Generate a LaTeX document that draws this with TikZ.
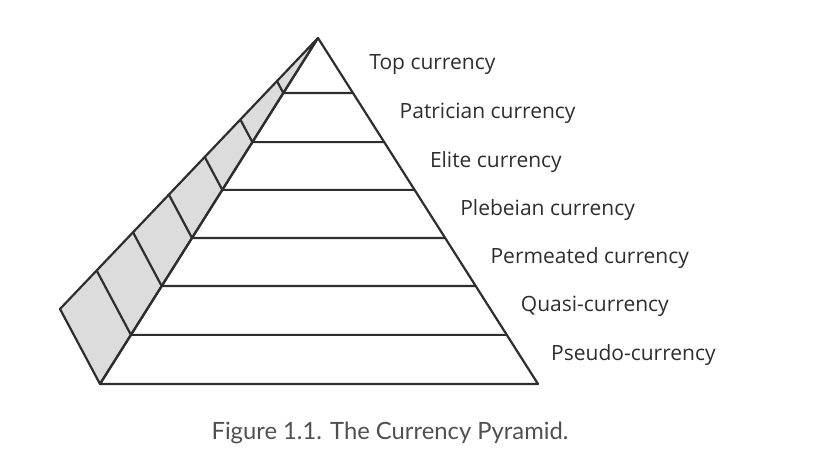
\documentclass[tikz,border=0pt]{standalone}
\usepackage{fontspec}
\setmainfont{Open Sans}
\newfontfamily\capfont{Lato}
\usetikzlibrary{calc}

\definecolor{edgegray}{HTML}{2E2E2E}
\definecolor{facegray}{HTML}{DCDCDC}
\definecolor{capgray}{HTML}{505050}

\tikzset{
  edge/.style={draw=edgegray,line width=1.1pt,line join=round},
  face/.style={edge,fill=facegray},
  tierlabel/.style={anchor=west,inner sep=0pt,text=edgegray,font=\fontsize{10.5}{12}\selectfont},
}

\begin{document}
\begin{tikzpicture}[x=0.5pt,y=-0.5pt]
  \useasboundingbox (0,0) rectangle (832,474);

  % corners of the pyramid
  \coordinate (apex)  at (318,38);
  \coordinate (backL) at (60,309);
  \coordinate (baseL) at (100,384);
  \coordinate (baseR) at (538,384);

  % shaded side face
  \draw[face] (apex) -- (backL) -- (baseL) -- cycle;
  % front face
  \draw[edge] (apex) -- (baseL) -- (baseR) -- cycle;

  % tier lines, side face and front face
  \foreach \t in {0.159,0.301,0.439,0.578,0.717,0.858} {
    \draw[edge] ($(apex)!\t!(backL)$) -- ($(apex)!\t!(baseL)$) -- ($(apex)!\t!(baseR)$);
  }

  % tier labels
  \foreach \lbl [count=\i from 0] in {Top currency,Patrician currency,Elite currency,
      Plebeian currency,Permeated currency,Quasi-currency,Pseudo-currency} {
    \node[tierlabel] (tier\i) at (369+30.3*\i,65+48.3*\i) {\lbl};
  }

  % caption
  \node[text=capgray,font=\capfont\fontsize{11.9}{14}\selectfont] (caption) at (390,433)
    {Figure 1.1. The Currency Pyramid.};
\end{tikzpicture}
\end{document}
